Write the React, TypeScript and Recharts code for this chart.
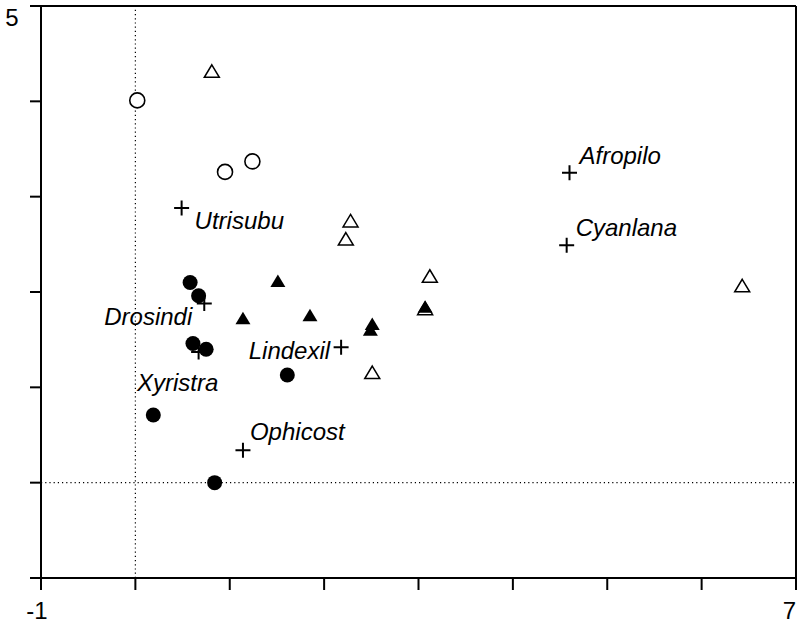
import React from "react"
import { ScatterChart, Scatter, XAxis, YAxis, ReferenceLine } from "recharts"

// axis ticks
const xTicks = [-1, 0, 1, 2, 3, 4, 5, 6, 7]
const yTicks = [-1, 0, 1, 2, 3, 4, 5]
const xTickLabels: Record<number, string> = { [-1]: "-1", 7: "7" }
const yTickLabels: Record<number, string> = { 5: "5" }

// sample groups
const openCircles = [
  { x: 0.02, y: 4.01 },
  { x: 0.95, y: 3.26 },
  { x: 1.24, y: 3.37 },
]

const filledCircles = [
  { x: 0.58, y: 2.1 },
  { x: 0.67, y: 1.96 },
  { x: 0.61, y: 1.46 },
  { x: 0.75, y: 1.4 },
  { x: 1.61, y: 1.13 },
  { x: 0.19, y: 0.71 },
  { x: 0.84, y: 0.0 },
]

const openTriangles = [
  { x: 0.81, y: 4.31 },
  { x: 2.28, y: 2.74 },
  { x: 2.23, y: 2.55 },
  { x: 3.12, y: 2.16 },
  { x: 3.07, y: 1.82 },
  { x: 2.51, y: 1.15 },
  { x: 6.43, y: 2.06 },
]

const filledTriangles = [
  { x: 1.51, y: 2.11 },
  { x: 1.14, y: 1.72 },
  { x: 1.85, y: 1.75 },
  { x: 2.51, y: 1.66 },
  { x: 2.49, y: 1.6 },
  { x: 3.07, y: 1.84 },
]

// species (biplot crosses)
const species = [
  { name: "Utrisubu", x: 0.49, y: 2.88 },
  { name: "Drosindi", x: 0.73, y: 1.88 },
  { name: "Xyristra", x: 0.67, y: 1.37 },
  { name: "Lindexil", x: 2.18, y: 1.42 },
  { name: "Ophicost", x: 1.14, y: 0.34 },
  { name: "Afropilo", x: 4.6, y: 3.25 },
  { name: "Cyanlana", x: 4.57, y: 2.49 },
]

// where each species name sits relative to its cross
const labelPlace: Record<string, { dx: number; dy: number; anchor: string }> = {
  Utrisubu: { dx: 13, dy: 12, anchor: "start" },
  Drosindi: { dx: -12, dy: 13, anchor: "end" },
  Xyristra: { dx: -21, dy: 30, anchor: "middle" },
  Lindexil: { dx: -11, dy: 3, anchor: "end" },
  Ophicost: { dx: 7, dy: -19, anchor: "start" },
  Afropilo: { dx: 10, dy: -17, anchor: "start" },
  Cyanlana: { dx: 9, dy: -18, anchor: "start" },
}

const FONT = "'Liberation Sans', Arial, sans-serif"

const OpenCircle = (p: any) => (
  <circle cx={p.cx} cy={p.cy} r={7.5} fill="#fff" stroke="#000" strokeWidth={1.6} />
)

const FilledCircle = (p: any) => <circle cx={p.cx} cy={p.cy} r={7.5} fill="#000" />

const triPath = (cx: number, cy: number) =>
  `M${cx},${cy - 7} L${cx + 7.5},${cy + 5.5} L${cx - 7.5},${cy + 5.5} Z`

const OpenTriangle = (p: any) => (
  <path d={triPath(p.cx, p.cy)} fill="none" stroke="#000" strokeWidth={1.5} />
)

const FilledTriangle = (p: any) => <path d={triPath(p.cx, p.cy)} fill="#000" />

const Cross = (p: any) => {
  const place = labelPlace[p.payload.name]
  return (
    <g>
      <path
        d={`M${p.cx - 7.5},${p.cy} L${p.cx + 7.5},${p.cy} M${p.cx},${p.cy - 7.5} L${p.cx},${p.cy + 7.5}`}
        stroke="#000"
        strokeWidth={2}
      />
      <text
        x={p.cx + place.dx}
        y={p.cy + place.dy}
        textAnchor={place.anchor}
        dominantBaseline="central"
        fontFamily={FONT}
        fontStyle="italic"
        fontSize={24}
        fill="#000"
      >
        {p.payload.name}
      </text>
    </g>
  )
}

const XTick = (p: any) => {
  const v = p.payload.value
  const label = xTickLabels[v]
  if (!label) return null
  const last = v === xTicks[xTicks.length - 1]
  return (
    <text
      x={last ? p.x : p.x - 4}
      y={610}
      textAnchor={last ? "end" : "middle"}
      dominantBaseline="central"
      fontFamily={FONT}
      fontSize={24}
      fill="#000"
    >
      {label}
    </text>
  )
}

const YTick = (p: any) => {
  const label = yTickLabels[p.payload.value]
  if (!label) return null
  return (
    <text x={12} y={p.y + 11} textAnchor="middle" dominantBaseline="central" fontFamily={FONT} fontSize={24} fill="#000">
      {label}
    </text>
  )
}

export default function App() {
  return (
    <div style={{ position: "absolute", left: 0, top: 0, background: "#fff" }}>
      <ScatterChart width={797} height={624} margin={{ top: 6, right: 1, bottom: 0, left: 0 }}>
        <XAxis
          type="number"
          dataKey="x"
          domain={[-1, 7]}
          ticks={xTicks}
          interval={0}
          allowDataOverflow
          height={46}
          tickSize={12}
          axisLine={{ stroke: "#000", strokeWidth: 2 }}
          tickLine={{ stroke: "#000", strokeWidth: 2 }}
          tick={<XTick />}
        />
        <YAxis
          type="number"
          dataKey="y"
          domain={[-1, 5]}
          ticks={yTicks}
          interval={0}
          allowDataOverflow
          width={41}
          tickSize={11}
          axisLine={{ stroke: "#000", strokeWidth: 2 }}
          tickLine={{ stroke: "#000", strokeWidth: 2 }}
          tick={<YTick />}
        />
        <ReferenceLine y={5} stroke="#000" strokeWidth={2} />
        <ReferenceLine x={7} stroke="#000" strokeWidth={2} />
        <ReferenceLine x={0} stroke="#000" strokeWidth={1.2} strokeDasharray="1.2 3" />
        <ReferenceLine y={0} stroke="#000" strokeWidth={1.2} strokeDasharray="1.2 3" />
        <Scatter data={openTriangles} shape={OpenTriangle} isAnimationActive={false} />
        <Scatter data={filledTriangles} shape={FilledTriangle} isAnimationActive={false} />
        <Scatter data={openCircles} shape={OpenCircle} isAnimationActive={false} />
        <Scatter data={filledCircles} shape={FilledCircle} isAnimationActive={false} />
        <Scatter data={species} shape={Cross} isAnimationActive={false} />
      </ScatterChart>
    </div>
  )
}
